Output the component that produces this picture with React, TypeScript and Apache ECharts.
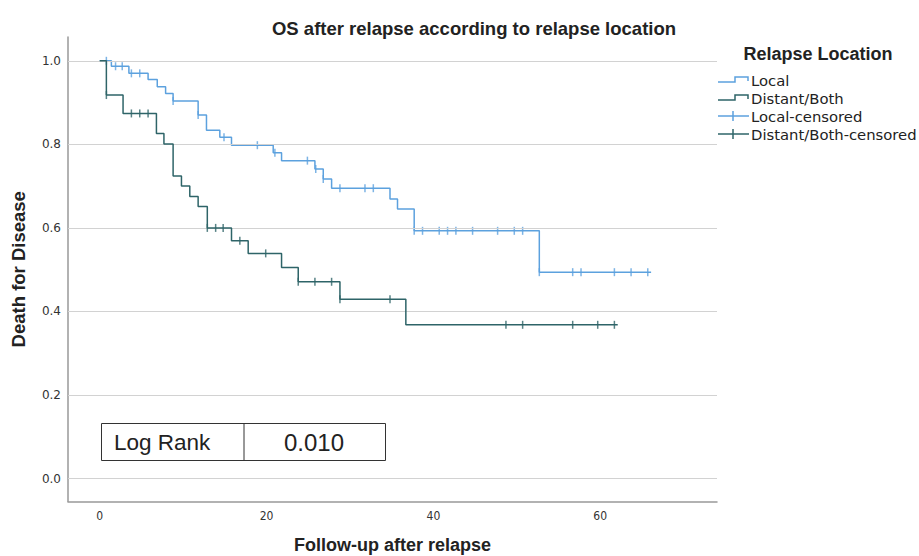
import React, { useEffect, useRef } from "react";
import * as echarts from "echarts";

// Kaplan-Meier step points (time, survival)
const localTimes = [0, 1.4, 3.5, 5.8, 6.9, 7.9, 8.8, 11.8, 12.8, 14.4, 15.8, 20.8, 21.8, 25.8, 26.8, 27.8, 34.8, 35.7, 37.7, 52.7, 66.1];
const localSurv = [1.0, 0.987, 0.97, 0.955, 0.938, 0.922, 0.904, 0.87, 0.834, 0.817, 0.798, 0.78, 0.761, 0.741, 0.717, 0.695, 0.669, 0.645, 0.593, 0.494, 0.494];

const distantTimes = [0, 0.8, 2.8, 6.8, 7.7, 8.8, 9.8, 10.8, 11.8, 12.9, 15.8, 17.8, 21.8, 23.8, 28.8, 36.7, 62.1];
const distantSurv = [1.0, 0.918, 0.874, 0.826, 0.801, 0.724, 0.7, 0.675, 0.651, 0.6, 0.569, 0.539, 0.505, 0.471, 0.429, 0.368, 0.368];

// Censored observations (time, survival)
const localCensTimes = [0.8, 1.9, 2.7, 3.8, 4.8, 8.8, 11.8, 14.9, 18.9, 21.0, 24.9, 25.9, 26.8, 28.8, 31.8, 32.8, 37.7, 38.7, 40.7, 41.7, 42.7, 44.7, 47.7, 49.7, 50.7, 52.7, 56.7, 57.7, 61.7, 63.7, 65.7];
const localCensSurv = [1.0, 0.987, 0.987, 0.97, 0.97, 0.904, 0.87, 0.817, 0.798, 0.78, 0.761, 0.741, 0.717, 0.695, 0.695, 0.695, 0.593, 0.593, 0.593, 0.593, 0.593, 0.593, 0.593, 0.593, 0.593, 0.494, 0.494, 0.494, 0.494, 0.494, 0.494];

const distantCensTimes = [0.8, 3.8, 4.8, 5.8, 12.9, 13.9, 14.8, 16.8, 19.9, 23.8, 25.8, 27.8, 28.8, 34.8, 48.7, 50.7, 56.7, 59.7, 61.7];
const distantCensSurv = [0.918, 0.874, 0.874, 0.874, 0.6, 0.6, 0.6, 0.569, 0.539, 0.471, 0.471, 0.471, 0.429, 0.429, 0.368, 0.368, 0.368, 0.368, 0.368];

const xTicks = [0, 20, 40, 60];
const yTicks = [0, 0.2, 0.4, 0.6, 0.8, 1.0];

const legendNames = ["Local", "Distant/Both", "Local-censored", "Distant/Both-censored"];
const logRankLabel = "Log Rank";
const logRankValue = "0.010";

const LOCAL_COLOR = "#5ca1de";
const DISTANT_COLOR = "#2e6468";
const BOLD_FONT = "'Liberation Sans', Arial, sans-serif";

const zip = (a: number[], b: number[]) => a.map((v, i) => [v, b[i]]);

export default function App() {
  const ref = useRef<HTMLDivElement>(null);
  useEffect(() => {
    if (!ref.current) return;
    const chart = echarts.init(ref.current, null, { renderer: "svg" });
    const legendX = 718;
    const legendY = [80, 98, 116, 134];
    const stepIcon = (y: number, color: string) => ({
      type: "polyline",
      shape: { points: [[legendX, y + 2], [legendX + 17, y + 2], [legendX + 17, y - 3], [legendX + 30, y - 3], [legendX + 30, y + 1]] },
      style: { stroke: color, lineWidth: 1.5, fill: "none" },
    });
    const censIcon = (y: number, color: string) => ({
      type: "group",
      children: [
        { type: "line", shape: { x1: legendX, y1: y, x2: legendX + 31, y2: y }, style: { stroke: color, lineWidth: 1.5 } },
        { type: "line", shape: { x1: legendX + 15, y1: y - 5, x2: legendX + 15, y2: y + 5 }, style: { stroke: color, lineWidth: 1.5 } },
      ],
    });
    const legendColors = [LOCAL_COLOR, DISTANT_COLOR, LOCAL_COLOR, DISTANT_COLOR];
    const legendGraphics: any[] = [
      {
        type: "text",
        style: { text: "Relapse Location", x: 818, y: 54, font: `bold 18px ${BOLD_FONT}`, fill: "#222", align: "center", verticalAlign: "middle" },
      },
    ];
    legendNames.forEach((n, i) => {
      legendGraphics.push(i < 2 ? stepIcon(legendY[i], legendColors[i]) : censIcon(legendY[i], legendColors[i]));
      legendGraphics.push({
        type: "text",
        style: { text: n, x: 751, y: legendY[i], font: "14.8px 'DejaVu Sans', sans-serif", fill: "#222", align: "left", verticalAlign: "middle" },
      });
    });

    const boxGraphics: any[] = [
      { type: "rect", shape: { x: 101.5, y: 423.5, width: 284, height: 37 }, style: { fill: "#fff", stroke: "#333", lineWidth: 1 }, z: 100 },
      { type: "line", shape: { x1: 244, y1: 423.5, x2: 244, y2: 460.5 }, style: { stroke: "#333", lineWidth: 1 }, z: 101 },
      { type: "text", style: { text: logRankLabel, x: 114, y: 442, font: "22.5px 'Liberation Sans', Arial, sans-serif", fill: "#222", align: "left", verticalAlign: "middle" }, z: 101 },
      { type: "text", style: { text: logRankValue, x: 314, y: 442, font: "24px 'Liberation Sans', Arial, sans-serif", fill: "#222", align: "center", verticalAlign: "middle" }, z: 101 },
    ];

    chart.setOption({
      animation: false,
      backgroundColor: "#fff",
      title: {
        text: "OS after relapse according to relapse location",
        left: 469,
        top: 14,
        textAlign: "center",
        textStyle: { fontFamily: BOLD_FONT, fontWeight: "bold", fontSize: 18.5, color: "#222" },
      },
      grid: { left: 68, top: 37, right: 202, bottom: 54.5, containLabel: false, outerBoundsMode: "none" },
      xAxis: {
        type: "value",
        min: -3.8,
        max: 74,
        name: "Follow-up after relapse",
        nameLocation: "middle",
        nameGap: 34,
        nameTextStyle: { fontFamily: BOLD_FONT, fontWeight: "bold", fontSize: 18, color: "#222" },
        axisLine: { show: true, onZero: false, lineStyle: { color: "#999", width: 1.5 } },
        axisTick: { show: false },
        splitLine: { show: false },
        axisLabel: { customValues: xTicks, margin: 8, color: "#333", fontSize: 12, fontFamily: "'DejaVu Sans Condensed', 'DejaVu Sans', sans-serif" },
      },
      yAxis: {
        type: "value",
        min: -0.055,
        max: 1.057,
        name: "Death for Disease",
        nameLocation: "middle",
        nameGap: 40,
        nameTextStyle: { fontFamily: BOLD_FONT, fontWeight: "bold", fontSize: 18.5, color: "#222" },
        axisLine: { show: true, onZero: false, lineStyle: { color: "#999", width: 1.5 } },
        axisTick: { show: false },
        splitLine: { show: false },
        axisLabel: { customValues: yTicks, margin: 7, color: "#333", fontSize: 12, fontFamily: "'DejaVu Sans', sans-serif", formatter: (v: number) => v.toFixed(1) },
      },
      graphic: [...legendGraphics, ...boxGraphics],
      series: [
        {
          name: "gridlines",
          type: "line",
          data: [],
          z: 1,
          silent: true,
          markLine: {
            silent: true,
            symbol: "none",
            label: { show: false },
            lineStyle: { color: "#d2d2d2", width: 1.2, type: "solid" },
            data: yTicks.map((v) => ({ yAxis: v })),
          },
        },
        {
          name: legendNames[0],
          type: "line",
          step: "end",
          data: zip(localTimes, localSurv),
          showSymbol: false,
          symbol: "none",
          lineStyle: { color: LOCAL_COLOR, width: 1.5 },
          itemStyle: { color: LOCAL_COLOR },
          z: 3,
        },
        {
          name: legendNames[2],
          type: "scatter",
          data: zip(localCensTimes, localCensSurv),
          symbol: "rect",
          symbolSize: [1.5, 8],
          itemStyle: { color: LOCAL_COLOR },
          z: 4,
        },
        {
          name: legendNames[1],
          type: "line",
          step: "end",
          data: zip(distantTimes, distantSurv),
          showSymbol: false,
          symbol: "none",
          lineStyle: { color: DISTANT_COLOR, width: 1.5 },
          itemStyle: { color: DISTANT_COLOR },
          z: 5,
        },
        {
          name: legendNames[3],
          type: "scatter",
          data: zip(distantCensTimes, distantCensSurv),
          symbol: "rect",
          symbolSize: [1.5, 8],
          itemStyle: { color: DISTANT_COLOR },
          z: 6,
        },
      ],
    });
    return () => chart.dispose();
  }, []);
  return <div ref={ref} style={{ position: "absolute", left: 0, top: 0, width: 919, height: 556 }} />;
}
